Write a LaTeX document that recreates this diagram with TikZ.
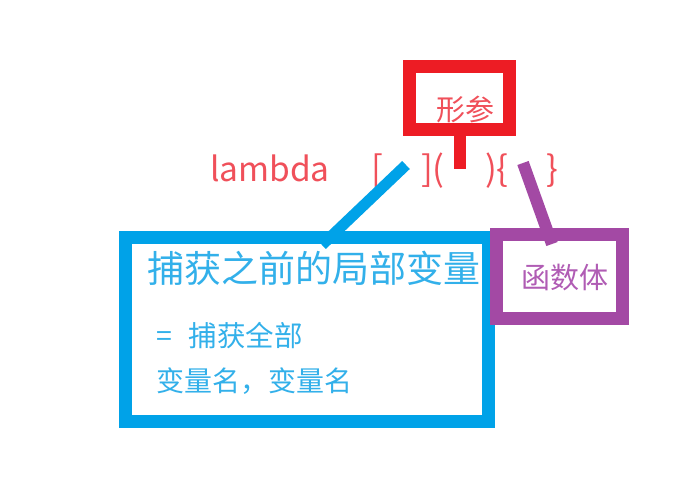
\documentclass[tikz,border=0pt]{standalone}
\usepackage{fontspec}
\setmainfont{Noto Sans CJK SC}
\definecolor{pred}{RGB}{237,28,36}
\definecolor{pblue}{RGB}{0,162,232}
\definecolor{ppurple}{RGB}{163,73,164}
\definecolor{tred}{RGB}{240,80,90}
\definecolor{tblue}{RGB}{50,176,234}
\definecolor{tpurple}{RGB}{176,92,180}
\begin{document}
\begin{tikzpicture}[x=1pt,y=-1pt,
  frame/.style={line width=13pt,inner sep=0pt,outer sep=0pt},
  lbl/.style={inner sep=0pt,outer sep=0pt,anchor=base west},
  conn/.style={line width=12pt,line cap=butt}]
\useasboundingbox[fill=white] (0,0) rectangle (700,490);
% boxes
\node[frame,draw=pblue,minimum width=363pt,minimum height=183.5pt] (capbox) at (307,329.25) {};
\node[frame,draw=ppurple,minimum width=125.5pt,minimum height=84pt] (bodybox) at (559.25,276.5) {};
\node[frame,draw=pred,minimum width=100pt,minimum height=63pt] (parbox) at (459.5,98) {};
% header text
\node[lbl,text=tred,font=\fontsize{33.5}{33.5}\selectfont] (lam) at (210,181) {lambda};
\node[lbl,text=tred,font=\fontsize{35}{35}\selectfont] (b1) at (371,181) {[};
\node[lbl,text=tred,font=\fontsize{35}{35}\selectfont] (b2) at (421,181) {](};
\node[lbl,text=tred,font=\fontsize{35}{35}\selectfont] (b3) at (485,181) {)\{};
\node[lbl,text=tred,font=\fontsize{35}{35}\selectfont] (b4) at (546,181) {\}};
% labels
\node[lbl,text=tred,font=\fontsize{29}{29}\selectfont] (partxt) at (436,120) {形参};
\node[lbl,text=tpurple,font=\fontsize{29}{29}\selectfont] (bodytxt) at (521,288) {函数体};
\node[lbl,text=tblue,font=\fontsize{37}{37}\selectfont] (captitle) at (147,282) {捕获之前的局部变量};
\node[lbl,text=tblue,font=\fontsize{28.5}{28.5}\selectfont] (capall) at (156,346) {=\hspace{17pt}捕获全部};
\node[lbl,text=tblue,font=\fontsize{28}{28}\selectfont] (capvars) at (156,391) {变量名，变量名};
% connectors
\coordinate (stemend) at (459.5,169);
\coordinate (capref) at (406,165);
\coordinate (capend) at (322,245);
\coordinate (bodyref) at (523,163);
\coordinate (bodyend) at (552,244);
\draw[conn,draw=pred] (parbox.south) -- (stemend);
\draw[conn,draw=pblue,line width=11pt] (capref) -- (capend);
\draw[conn,draw=ppurple] (bodyref) -- (bodyend);
\end{tikzpicture}
\end{document}
